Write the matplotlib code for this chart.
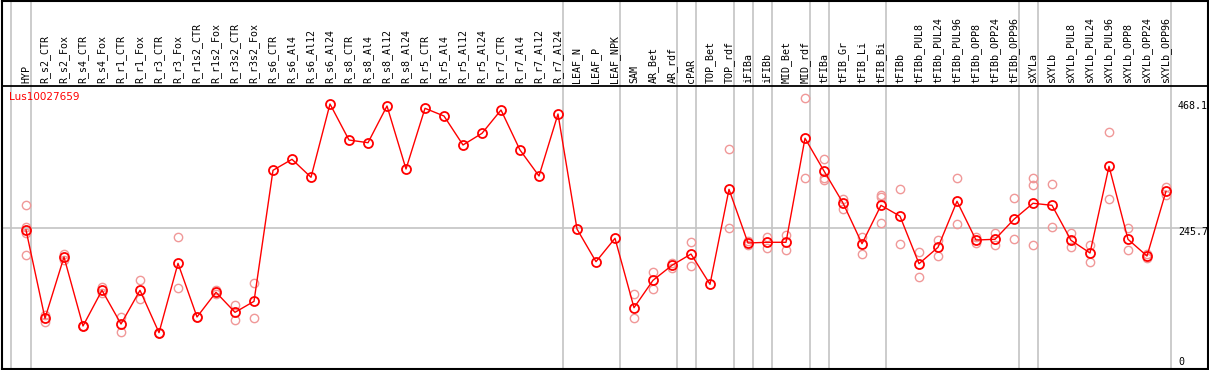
import matplotlib
matplotlib.use("Agg")
import matplotlib.pyplot as plt
import matplotlib.transforms as mtransforms

gene = "Lus10027659"

samples = [
    "HYP", "R_s2_CTR", "R_s2_Fox", "R_s4_CTR", "R_s4_Fox", "R_r1_CTR", "R_r1_Fox",
    "R_r3_CTR", "R_r3_Fox", "R_r1s2_CTR", "R_r1s2_Fox", "R_r3s2_CTR", "R_r3s2_Fox",
    "R_s6_CTR", "R_s6_Al4", "R_s6_Al12", "R_s6_Al24", "R_s8_CTR", "R_s8_Al4",
    "R_s8_Al12", "R_s8_Al24", "R_r5_CTR", "R_r5_Al4", "R_r5_Al12", "R_r5_Al24",
    "R_r7_CTR", "R_r7_Al4", "R_r7_Al12", "R_r7_Al24", "LEAF_N", "LEAF_P", "LEAF_NPK",
    "SAM", "AR_Bet", "AR_rdf", "cPAR", "TOP_Bet", "TOP_rdf", "iFIBa", "iFIBb",
    "MID_Bet", "MID_rdf", "tFIBa", "tFIB_Gr", "tFIB_Li", "tFIB_Bi", "tFIBb",
    "tFIBb_PUL8", "tFIBb_PUL24", "tFIBb_PUL96", "tFIBb_OPP8", "tFIBb_OPP24",
    "tFIBb_OPP96", "sXYLa", "sXYLb", "sXYLb_PUL8", "sXYLb_PUL24", "sXYLb_PUL96",
    "sXYLb_OPP8", "sXYLb_OPP24", "sXYLb_OPP96",
]

# mean expression per sample
means = [
    242.6, 91.4, 196.4, 78.3, 139.4, 81.7, 139.4, 66.8, 185.6, 93.7, 136.0, 101.7, 120.5,
    344.9, 363.7, 332.9, 458.4, 396.7, 392.1, 455.0, 347.1, 451.0, 437.8, 388.2, 408.2,
    448.1, 379.6, 335.1, 441.3, 244.3, 188.4, 228.4,
    109.6, 156.5, 182.2, 201.5, 149.7, 312.3, 220.4, 221.6, 221.6, 399.7,
    343.7, 288.9, 219.2, 284.9, 266.3, 184.9, 213.0, 291.8, 225.5, 226.7, 261.0,
    288.4, 284.9, 225.0, 203.3, 351.7, 226.7, 198.1, 308.9,
]

# individual replicates (only those visible apart from the mean)
replicates = [
    [284.9, 248.3, 237.0, 199.3], [97.1, 85.6], [201.5, 191.3], [78.3, 78.3],
    [145.5, 134.2], [94.2, 68.0], [157.0, 124.0], [66.8, 66.8], [230.1, 142.8],
    [93.7], [139.4, 133.0], [113.7, 89.0], [151.4, 91.4],
    [], [], [], [], [], [], [], [], [], [], [], [], [], [], [], [], [], [], [],
    [132.5, 91.4], [170.2, 142.1], [186.6, 178.1], [221.6, 180.5], [],
    [380.8, 245.5], [224.3, 216.4], [231.2, 211.3], [234.6, 208.9], [468.1, 331.2],
    [363.7, 332.2, 328.3], [295.2, 278.1], [231.2, 201.5], [302.6, 299.7, 254.1],
    [312.5, 218.3], [205.5, 162.2], [225.0, 198.6], [331.2, 252.4], [230.1, 220.4],
    [237.0, 217.5], [296.9, 226.7], [331.7, 319.2, 216.4], [320.9, 247.8],
    [237.0, 213.0], [217.0, 188.4], [409.9, 295.2], [245.5, 207.9], [201.5, 194.2],
    [316.8, 302.6],
]

# grey separators drawn after these samples
group_ends = ["HYP", "R_r7_Al24", "LEAF_NPK", "AR_rdf", "cPAR", "TOP_rdf", "iFIBa",
              "iFIBb", "MID_rdf", "tFIBa", "tFIB_Bi", "tFIBb_OPP96", "sXYLa", "sXYLb_OPP96"]

y_ticks = [0, 245.7, 468.1]

W, H = 1209, 370
fig = plt.figure(figsize=(W / 100, H / 100), dpi=100)
ax = fig.add_axes([1.5 / W, 1.5 / H, 1206 / W, 368 / H])
ax.set_xlim(-24.5 / 19, -24.5 / 19 + 1206 / 19)
ax.set_ylim(5.5, 635.6)
ax.set_xticks([])
ax.set_yticks([])
for s in ax.spines.values():
    s.set_linewidth(1.5)
    s.set_color("black")

grey = "#c4c4c4"
ax.axvline(-0.8, color=grey, lw=1.2, zorder=1)
for name in group_ends:
    ax.axvline(samples.index(name) + 0.25, color=grey, lw=1.2, zorder=1)
ax.axhline(y_ticks[1], color=grey, lw=1.2, zorder=1)

# header separator
ax.plot([0, 1], [0.7685, 0.7685], transform=ax.transAxes, color="black", lw=1.3, zorder=3)

xs = list(range(len(samples)))
rx, ry = [], []
for i, reps in enumerate(replicates):
    for r in reps:
        rx.append(i)
        ry.append(r)
ax.plot(rx, ry, "o", ms=6, mfc="none", mec="#f09898", mew=1.0, ls="none", zorder=2)
ax.plot(xs, means, "-", color="red", lw=1.0, zorder=3)
ax.plot(xs, means, "o", ms=6.5, mfc="none", mec="red", mew=1.3, zorder=4)

xtrans = mtransforms.blended_transform_factory(ax.transData, ax.transAxes)
for i, name in enumerate(samples):
    ax.text(i, 0.7758, name, transform=xtrans, rotation=90, ha="center", va="bottom",
            family="DejaVu Sans Mono", fontsize=7.2, color="black")

ax.text(0.0065, 0.737, gene, transform=ax.transAxes, ha="left", va="center",
        family="DejaVu Sans", fontsize=7.5, color="red")

ytrans = mtransforms.blended_transform_factory(ax.transAxes, ax.transData)
offsets = [10, -4, -8]
for v, off in zip(y_ticks, offsets):
    lab = "0" if v == 0 else f"{v:.1f}"
    ax.annotate(lab, xy=(0.9755, v), xycoords=ytrans, xytext=(0, off),
                textcoords="offset pixels", ha="left", va="center",
                family="DejaVu Sans Mono", fontsize=7.2, color="black",
                annotation_clip=False, zorder=5)

fig.savefig("out.png", dpi=100)
